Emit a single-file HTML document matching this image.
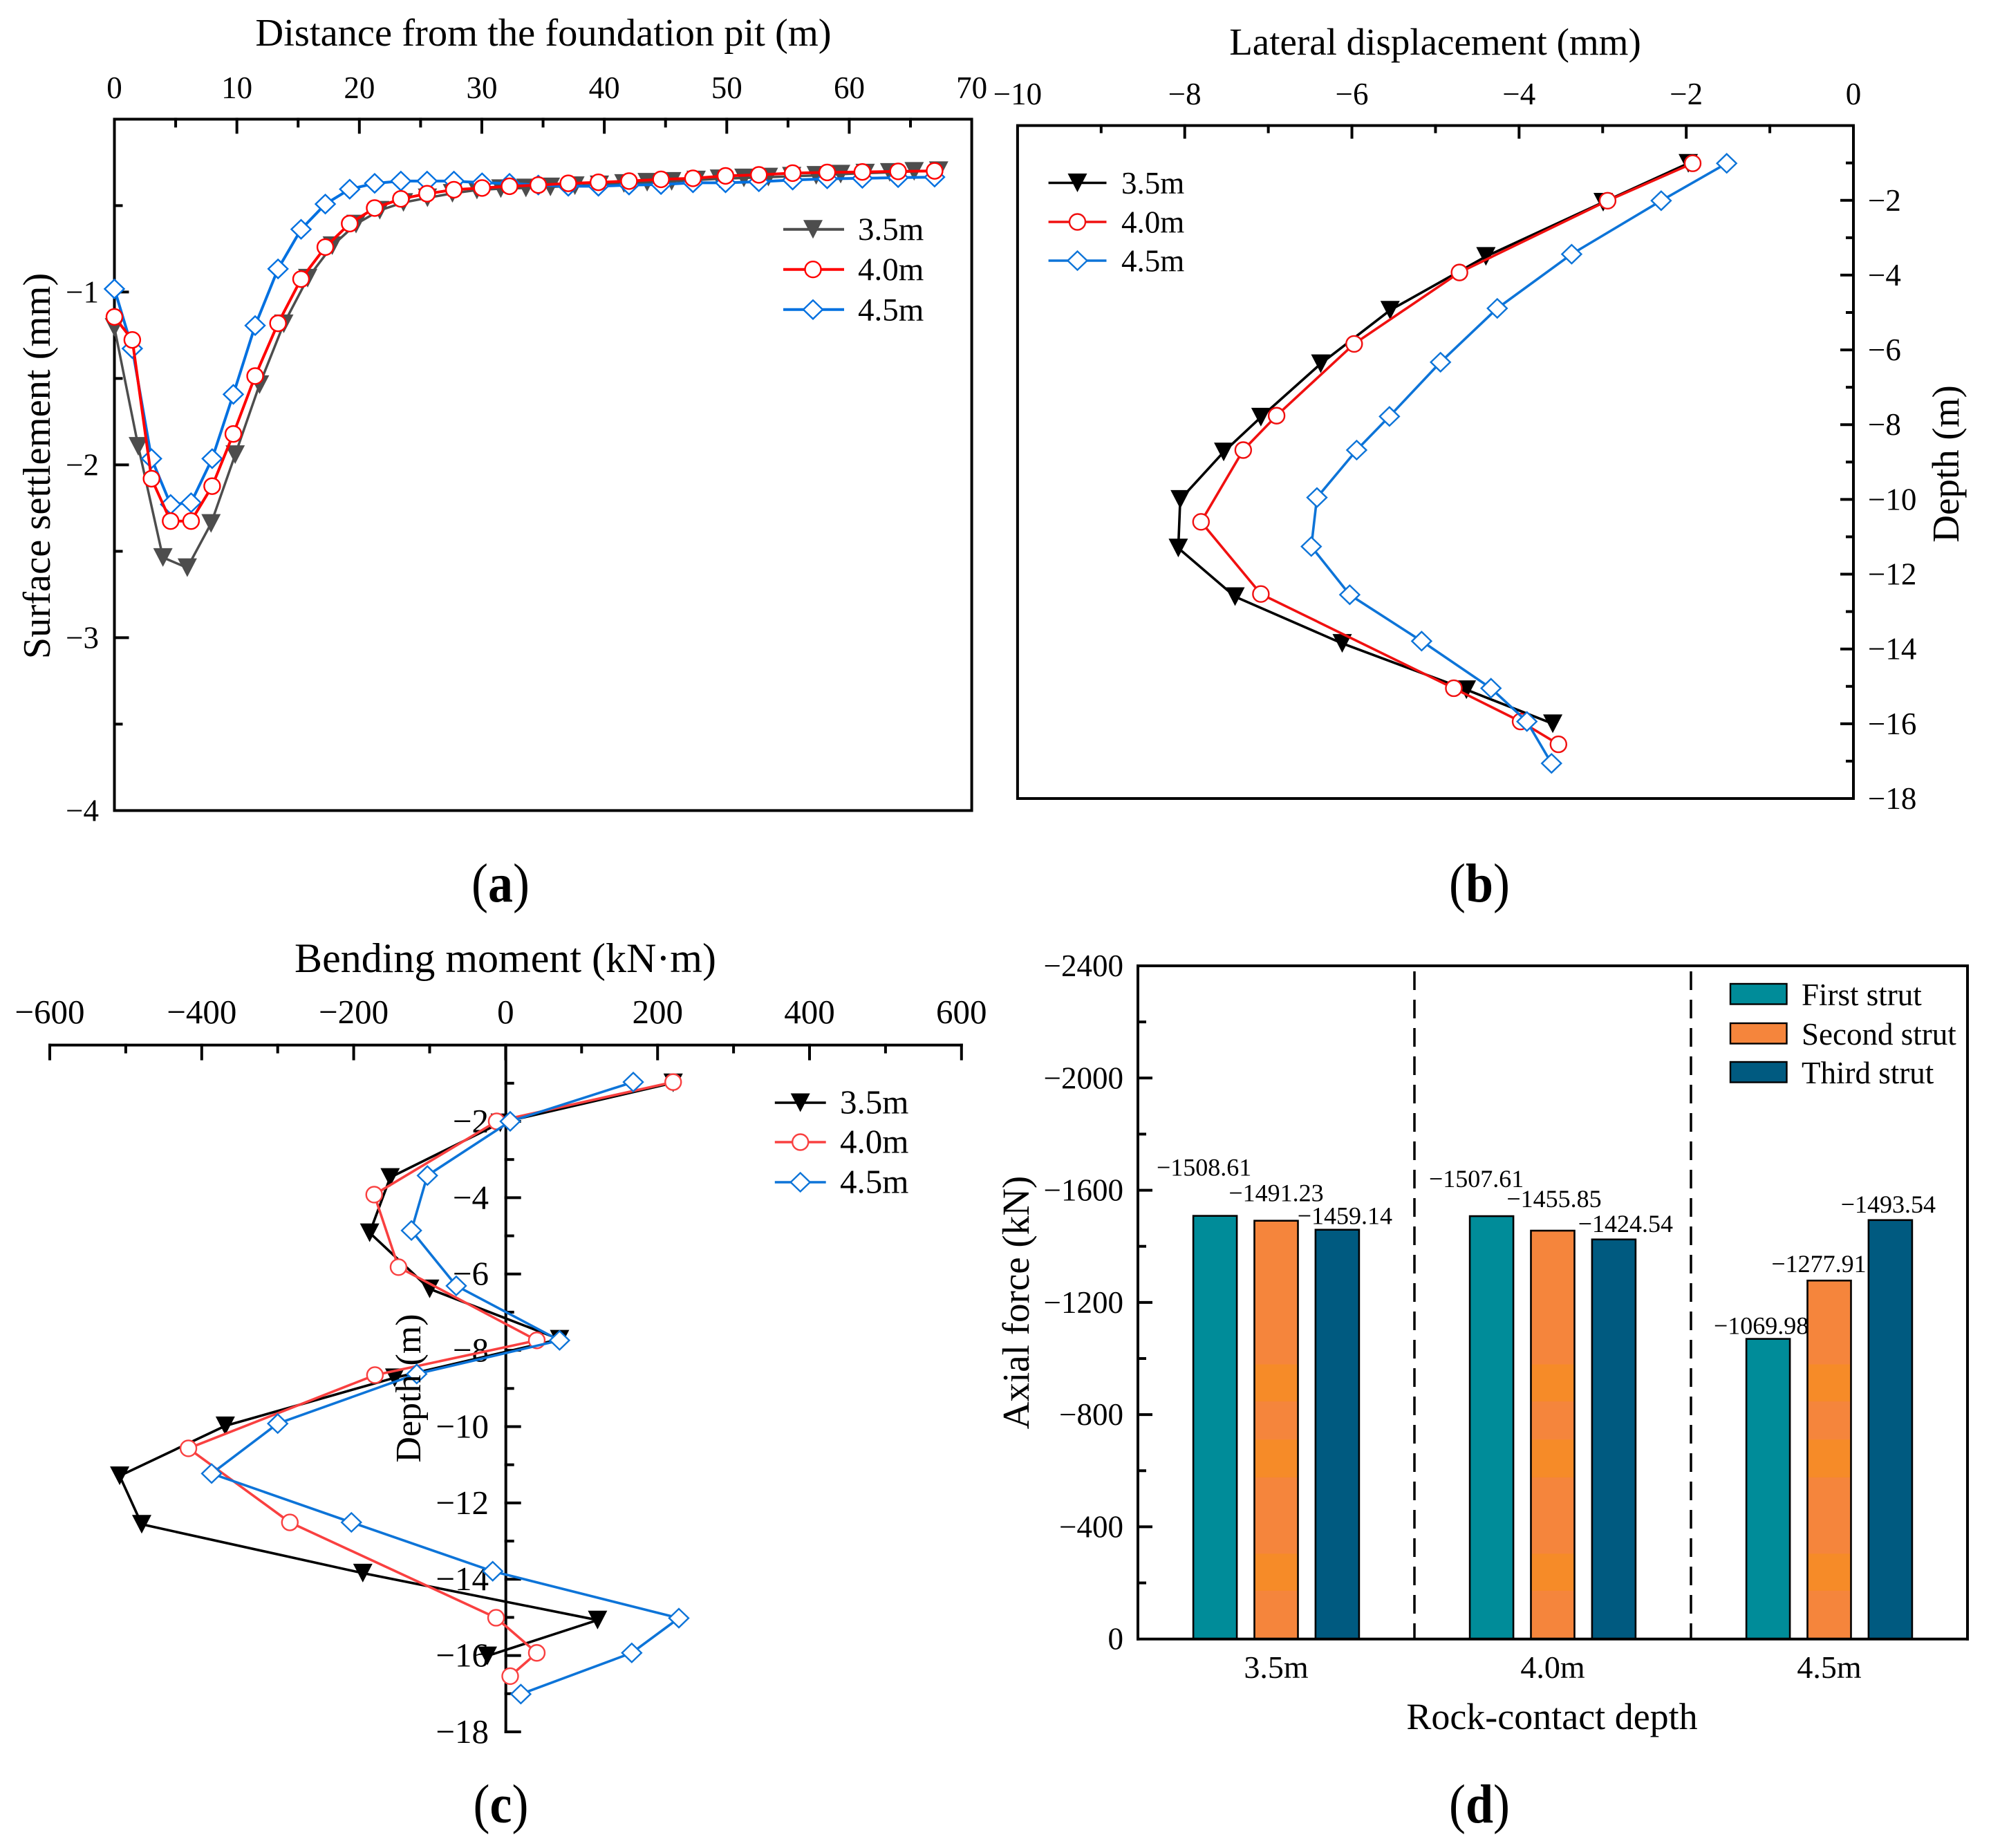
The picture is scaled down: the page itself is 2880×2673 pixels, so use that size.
<!DOCTYPE html>
<html lang="en">
<head>
<meta charset="utf-8">
<title>Retaining structure response charts</title>
<style>
html,body{margin:0;padding:0;background:#fff;}
svg{display:block;font-family:"Liberation Serif",serif;fill:#000;}
text{fill:#000;}
</style>
</head>
<body>
<svg id="fig" xmlns="http://www.w3.org/2000/svg" width="2880" height="2673" viewBox="0 0 2880 2673">
  <rect x="0" y="0" width="2880" height="2673" fill="#fff"/>
  <g id="pa">
    <text x="786" y="66" font-size="56.5" text-anchor="middle">Distance from the foundation pit (m)</text>
    <text transform="translate(72,674) rotate(-90)" font-size="56.5" text-anchor="middle">Surface settlement (mm)</text>
    <text transform="translate(724,1304) scale(1,1.1)" font-size="72" text-anchor="middle">(<tspan font-weight="bold">a</tspan>)</text>
  </g>
  <g id="pb">
    <text x="2076" y="79" font-size="55" text-anchor="middle">Lateral displacement (mm)</text>
    <text transform="translate(2833,671) rotate(-90)" font-size="55" text-anchor="middle">Depth (m)</text>
    <text transform="translate(2140,1304) scale(1,1.1)" font-size="72" text-anchor="middle">(<tspan font-weight="bold">b</tspan>)</text>
  </g>
  <g id="pc">
    <text x="731" y="1406" font-size="60" text-anchor="middle">Bending moment (kN·m)</text>
    <text transform="translate(724.5,2636) scale(1,1.1)" font-size="72" text-anchor="middle">(<tspan font-weight="bold">c</tspan>)</text>
  </g>
  <g id="pd">
    <text transform="translate(1488,1884) rotate(-90)" font-size="55" text-anchor="middle">Axial force (kN)</text>
    <text x="2245" y="2501" font-size="54" text-anchor="middle">Rock-contact depth</text>
    <text transform="translate(2140,2636) scale(1,1.1)" font-size="72" text-anchor="middle">(<tspan font-weight="bold">d</tspan>)</text>
  </g>
</svg>
<script>
/* Panel (a): surface settlement */
const aX35 = [0,1.95,3.96,5.95,7.89,9.86,11.85,13.83,15.78,17.79,19.73,21.67,23.6,25.56,27.6,29.6,31.55,33.6,35.6,37.6,39.6,41.6,43.5,45.5,47.5,49.4,51.4,53.4,55.3,57.3,59.3,61.3,63.3,65.3,67.3];
const aY35 = [-1.205,-1.893,-2.536,-2.595,-2.339,-1.941,-1.536,-1.184,-0.92,-0.732,-0.607,-0.527,-0.482,-0.455,-0.429,-0.41,-0.402,-0.398,-0.392,-0.385,-0.38,-0.372,-0.365,-0.36,-0.352,-0.345,-0.34,-0.335,-0.33,-0.325,-0.318,-0.312,-0.308,-0.302,-0.298];
const aX = [0,1.46,3.03,4.59,6.26,7.98,9.71,11.49,13.36,15.24,17.22,19.21,21.25,23.39,25.53,27.72,30.02,32.26,34.61,37.06,39.52,42.02,44.63,47.24,49.9,52.62,55.38,58.2,61.07,63.99,66.97];
const aY40 = [-1.144,-1.277,-2.08,-2.325,-2.325,-2.123,-1.821,-1.486,-1.181,-0.925,-0.74,-0.604,-0.514,-0.461,-0.431,-0.408,-0.398,-0.388,-0.381,-0.371,-0.365,-0.358,-0.348,-0.342,-0.328,-0.322,-0.312,-0.308,-0.305,-0.302,-0.299];
const aY45 = [-0.982,-1.327,-1.964,-2.229,-2.219,-1.964,-1.592,-1.194,-0.866,-0.637,-0.491,-0.405,-0.371,-0.358,-0.358,-0.358,-0.368,-0.371,-0.381,-0.388,-0.388,-0.381,-0.378,-0.368,-0.368,-0.362,-0.352,-0.345,-0.342,-0.338,-0.335];
const aXTicks = ["0","10","20","30","40","50","60","70"];
const aYTicks = ["−1","−2","−3","−4"];

/* Panel (b): lateral displacement */
const bX35 = [-1.976,-2.994,-4.397,-5.543,-6.373,-7.089,-7.534,-8.054,-8.077,-7.398,-6.116,-4.63,-3.597];
const bD35 = [1.01,2.05,3.5,4.94,6.37,7.8,8.73,10,11.3,12.6,13.85,15.09,16.0];
const bX40 = [-1.923,-2.941,-4.713,-5.973,-6.901,-7.3,-7.805,-7.089,-4.781,-3.982,-3.529];
const bD40 = [1.01,2.01,3.93,5.84,7.76,8.68,10.6,12.53,15.05,15.94,16.55];
const bX45 = [-1.516,-2.3,-3.371,-4.261,-4.94,-5.551,-5.943,-6.418,-6.486,-6.026,-5.166,-4.336,-3.906,-3.612];
const bD45 = [1.01,2.01,3.44,4.89,6.33,7.78,8.68,9.95,11.26,12.55,13.79,15.05,15.94,17.06];
const bXTicks = ["−10","−8","−6","−4","−2","0"];
const bYTicks = ["−2","−4","−6","−8","−10","−12","−14","−16","−18"];

/* Panel (c): bending moment */
const cX35 = [220.5,-7,-152,-179,-100,71,-146,-369,-508,-479,-188,121,-24];
const cD35 = [0.99,2.04,3.47,4.92,6.39,7.71,8.72,9.98,11.29,12.56,13.84,15.07,16.01];
const cX40 = [220.5,-11.8,-173,-141,41,-172,-417.5,-284,-12.6,41,6];
const cD40 = [0.97,2.0,3.92,5.82,7.74,8.65,10.57,12.51,15.01,15.93,16.54];
const cX45 = [168,6,-103,-124,-65,71,-117,-300,-387,-203,-17,228,166,20];
const cD45 = [0.97,2,3.42,4.86,6.31,7.74,8.62,9.92,11.23,12.51,13.79,15.02,15.93,17.01];
const cXTicks = ["−600","−400","−200","0","200","400","600"];
const cYTicks = ["−2","−4","−6","−8","−10","−12","−14","−16","−18"];

/* Panel (d): axial force */
const dCategories = ["3.5m","4.0m","4.5m"];
const dFirst = [-1508.61,-1507.61,-1069.98];
const dSecond = [-1491.23,-1455.85,-1277.91];
const dThird = [-1459.14,-1424.54,-1493.54];
const dYTicks = ["0","−400","−800","−1200","−1600","−2000","−2400"];

const NS = "http://www.w3.org/2000/svg";
function mk(parent, tag, attrs, txt){
  const e = document.createElementNS(NS, tag);
  for (const k in attrs) e.setAttribute(k, attrs[k]);
  if (txt !== undefined) e.textContent = txt;
  parent.appendChild(e);
  return e;
}
function linear(d0, d1, r0, r1){ return v => r0 + (v - d0) * (r1 - r0) / (d1 - d0); }
function num(s){ return parseFloat(String(s).replace("−", "-")); }

const AXW = 4;
function line(parent, x1, y1, x2, y2, name){
  const e = mk(parent, "line", {x1:x1, y1:y1, x2:x2, y2:y2, stroke:"#000", "stroke-width":AXW, "stroke-linecap":"square"});
  
  
  return e;
}
function label(parent, x, y, size, anchor, s, name){
  const e = mk(parent, "text", {x:x, y:y, "font-size":size, "text-anchor":anchor}, s);
  
  
  return e;
}
function box(parent, x0, y0, x1, y1, name){
  const e = mk(parent, "rect", {x:x0, y:y0, width:x1-x0, height:y1-y0, fill:"none", stroke:"#000", "stroke-width":AXW});
  
  
  return e;
}
function marker(parent, kind, x, y, color){
  let e;
  if (kind === "tri") {
    e = mk(parent, "polygon", {points:(x-14)+","+(y-13.5)+" "+(x+14)+","+(y-13.5)+" "+x+","+(y+13.5), fill:color, stroke:"none"});
  } else if (kind === "cir") {
    e = mk(parent, "circle", {cx:x, cy:y, r:11.5, fill:"#fff", stroke:color, "stroke-width":2.4});
  } else {
    e = mk(parent, "polygon", {points:(x-14)+","+y+" "+x+","+(y-13.5)+" "+(x+14)+","+y+" "+x+","+(y+13.5), fill:"#fff", stroke:color, "stroke-width":2.4});
  }
  return e;
}
function series(parent, xs, ys, sx, sy, kind, color, width, name){
  const g = mk(parent, "g", {});
  
  
  const pts = xs.map((v,i) => sx(v).toFixed(1)+","+sy(ys[i]).toFixed(1)).join(" ");
  const l = mk(g, "polyline", {points:pts, fill:"none", stroke:color, "stroke-width":width, "stroke-linejoin":"round"});
  
  
  xs.forEach((v,i) => {
    const m = marker(g, kind, sx(v), sy(ys[i]), color);
    
    
  });
}
function legend(parent, x0, x1, mx, tx, rows, size, width, name){
  rows.forEach(r => {
    const g = mk(parent, "g", {});
    
    
    const l = mk(g, "line", {x1:x0, y1:r.y, x2:x1, y2:r.y, stroke:r.color, "stroke-width":width});
    
    
    const m = marker(g, r.kind, mx, r.y, r.color);
    
    
    label(g, tx, r.y + 15.5, size, "start", r.text, 'legend-label');
  });
}

/* ---------- Panel A ---------- */
(function(){
  const p = document.getElementById("pa");
  const L = 165.5, R = 1405.6, T = 172.4, B = 1172.4;
  const sx = linear(0, 70, L, R), sy = linear(0, -4, T, B);
  aXTicks.forEach(t => {
    const v = num(t);
    label(p, sx(v), 142, 45, "middle", t, 'panel-a-x-tick-label');
    if (v > 0 && v < 70) line(p, sx(v), T, sx(v), T + 19, 'panel-a-x-tick');
    if (v < 70) line(p, sx(v + 5), T, sx(v + 5), T + 10, 'panel-a-x-minor-tick');
  });
  aYTicks.forEach(t => {
    const v = num(t);
    label(p, 143, sy(v) + 15, 45, "end", t, 'panel-a-y-tick-label');
    if (v > -4) line(p, L, sy(v), L + 19, sy(v), 'panel-a-y-tick');
    line(p, L, sy(v + 0.5), L + 10, sy(v + 0.5), 'panel-a-y-minor-tick');
  });
  box(p, L, T, R, B, 'panel-a-frame');
  series(p, aX35, aY35, sx, sy, "tri", "#4d4d4d", 3.5, 'panel-a-series-3-5m');
  series(p, aX, aY45, sx, sy, "dia", "#0070e0", 4, 'panel-a-series-4-5m');
  series(p, aX, aY40, sx, sy, "cir", "#ff0000", 4, 'panel-a-series-4-0m');
  legend(p, 1133, 1221, 1176, 1241, [
    {y:331.7, kind:"tri", color:"#4d4d4d", text:"3.5m"},
    {y:389.7, kind:"cir", color:"#ff0000", text:"4.0m"},
    {y:447.8, kind:"dia", color:"#0070e0", text:"4.5m"}
  ], 47, 4, 'panel-a-legend');
})();

/* ---------- Panel B ---------- */
(function(){
  const p = document.getElementById("pb");
  const L = 1471.9, R = 2681, T = 181.6, B = 1155;
  const sx = linear(-10, 0, L, R), sy = linear(0, 18, T, B);
  bXTicks.forEach(t => {
    const v = num(t);
    label(p, sx(v), 151, 45, "middle", t, 'panel-b-x-tick-label');
    if (v > -10 && v < 0) line(p, sx(v), T, sx(v), T + 17, 'panel-b-x-tick');
    if (v < 0) line(p, sx(v + 1), T, sx(v + 1), T + 9, 'panel-b-x-minor-tick');
  });
  bYTicks.forEach(t => {
    const v = -num(t);
    label(p, 2702, sy(v) + 15, 45, "start", t, 'panel-b-y-tick-label');
    if (v < 18) line(p, R, sy(v), R - 17, sy(v), 'panel-b-y-tick');
    line(p, R, sy(v - 1), R - 9, sy(v - 1), 'panel-b-y-minor-tick');
  });
  box(p, L, T, R, B, 'panel-b-frame');
  series(p, bX35, bD35, sx, sy, "tri", "#000000", 3.6, 'panel-b-series-3-5m');
  series(p, bX40, bD40, sx, sy, "cir", "#f01010", 3.6, 'panel-b-series-4-0m');
  series(p, bX45, bD45, sx, sy, "dia", "#0d74d8", 3.6, 'panel-b-series-4-5m');
  legend(p, 1516.6, 1600.5, 1558.5, 1622, [
    {y:264.5, kind:"tri", color:"#000000", text:"3.5m"},
    {y:321, kind:"cir", color:"#f01010", text:"4.0m"},
    {y:377, kind:"dia", color:"#0d74d8", text:"4.5m"}
  ], 45, 3.6, 'panel-b-legend');
})();

/* ---------- Panel C ---------- */
(function(){
  const p = document.getElementById("pc");
  const L = 72, R = 1390.8, T = 1511.6, B = 2505, X0 = 731.7;
  const sx = linear(-600, 600, L, R), sy = linear(0, 18, T, B);
  line(p, L, T, R, T, 'panel-c-x-axis');
  line(p, X0, T, X0, B, 'panel-c-y-axis');
  cXTicks.forEach(t => {
    const v = num(t);
    label(p, sx(v), 1480, 49, "middle", t, 'panel-c-x-tick-label');
    line(p, sx(v), T, sx(v), T + 20, 'panel-c-x-tick');
    if (v < 600) line(p, sx(v + 100), T, sx(v + 100), T + 10, 'panel-c-x-minor-tick');
  });
  cYTicks.forEach(t => {
    const v = -num(t);
    label(p, 707, sy(v) + 16, 49, "end", t, 'panel-c-y-tick-label');
    line(p, X0, sy(v), X0 + 20, sy(v), 'panel-c-y-tick');
    line(p, X0, sy(v - 1), X0 + 10, sy(v - 1), 'panel-c-y-minor-tick');
  });
  series(p, cX35, cD35, sx, sy, "tri", "#000000", 3.6, 'panel-c-series-3-5m');
  series(p, cX40, cD40, sx, sy, "cir", "#f94040", 3.6, 'panel-c-series-4-0m');
  series(p, cX45, cD45, sx, sy, "dia", "#0d74d8", 3.6, 'panel-c-series-4-5m');
  legend(p, 1120.8, 1194.7, 1157.7, 1215, [
    {y:1595, kind:"tri", color:"#000000", text:"3.5m"},
    {y:1652, kind:"cir", color:"#f94040", text:"4.0m"},
    {y:1710, kind:"dia", color:"#0d74d8", text:"4.5m"}
  ], 49, 3.6, 'panel-c-legend');
  const t = mk(p, "text", {transform:"translate(608,2008) rotate(-90)", "font-size":52, "text-anchor":"middle"}, "Depth (m)");
  
  
})();

/* ---------- Panel D ---------- */
(function(){
  const p = document.getElementById("pd");
  const L = 1646, R = 2846, T = 1397, B = 2370.7;
  const sy = linear(0, -2400, B, T);
  const band = (R - L) / dCategories.length;
  const cx = i => L + band * (i + 0.5);
  dYTicks.forEach(t => {
    const v = num(t);
    label(p, 1625, sy(v) + 15, 45, "end", t, 'panel-d-y-tick-label');
    if (v < 0 && v > -2400) line(p, L, sy(v), L + 19, sy(v), 'panel-d-y-tick');
    if (v > -2400) line(p, L, sy(v - 200), L + 10, sy(v - 200), 'panel-d-y-minor-tick');
  });
  [1, 2].forEach(i => {
    const d = mk(p, "line", {x1:L + band * i, y1:T + 8, x2:L + band * i, y2:B, stroke:"#000", "stroke-width":3.5, "stroke-dasharray":"27 14"});
    
    
  });
  const barW = 63, step = 88.4;
  const groups = [
    {vals:dFirst, fill:"#008c99", name:"first-strut"},
    {vals:dSecond, fill:"#f5853c", name:"second-strut"},
    {vals:dThird, fill:"#005a80", name:"third-strut"}
  ];
  const stripes = [[-979,-847],[-711,-576],[-304,-172]];
  const lblOffsets = [
    [[-16,-70],[-22,-54],[-10,-19]],
    [[0,-40],[2,-46],[-15,-24]],
    [[11,-20],[17,-23],[-3,-23]]
  ];
  groups.forEach((g, k) => {
    g.vals.forEach((v, i) => {
      const x = cx(i) + (k - 1) * step;
      const top = sy(v);
      if (k === 1) {
        const base = mk(p, "rect", {x:x - barW/2, y:top, width:barW, height:B - top, fill:g.fill, stroke:"none"});
        
        
        stripes.forEach(s => {
          const y0 = Math.max(sy(s[0]), top), y1 = sy(s[1]);
          if (y1 > y0) {
            const st = mk(p, "rect", {x:x - barW/2, y:y0, width:barW, height:y1 - y0, fill:"#f68b28"});
            
            
          }
        });
      }
      const b = mk(p, "rect", {x:x - barW/2, y:top, width:barW, height:B - top, fill:k === 1 ? "none" : g.fill, stroke:"#000", "stroke-width":2.6});
      
      
      const o = lblOffsets[k][i];
      label(p, x + o[0], top + o[1] + 12, 36, "middle", "−" + Math.abs(v).toFixed(2), 'bar-value-label');
    });
  });
  line(p, L, T, R, T, 'panel-d-frame-top');
  line(p, L, T, L, B, 'panel-d-frame-left');
  line(p, R, T, R, B, 'panel-d-frame-right');
  line(p, L, B, R, B, 'panel-d-frame-bottom');
  dCategories.forEach((c, i) => {
    label(p, cx(i), 2427, 46, "middle", c, 'panel-d-category-label');
  });
  [["First strut","#008c99",1423],["Second strut","#f5853c",1480],["Third strut","#005a80",1536]].forEach(r => {
    const s = mk(p, "rect", {x:2503, y:r[2], width:81.5, height:29.5, fill:r[1], stroke:"#000", "stroke-width":2.4});
    
    
    label(p, 2606, r[2] + 31, 45, "start", r[0], 'panel-d-legend-label');
  });
})();
</script>
</body>
</html>
